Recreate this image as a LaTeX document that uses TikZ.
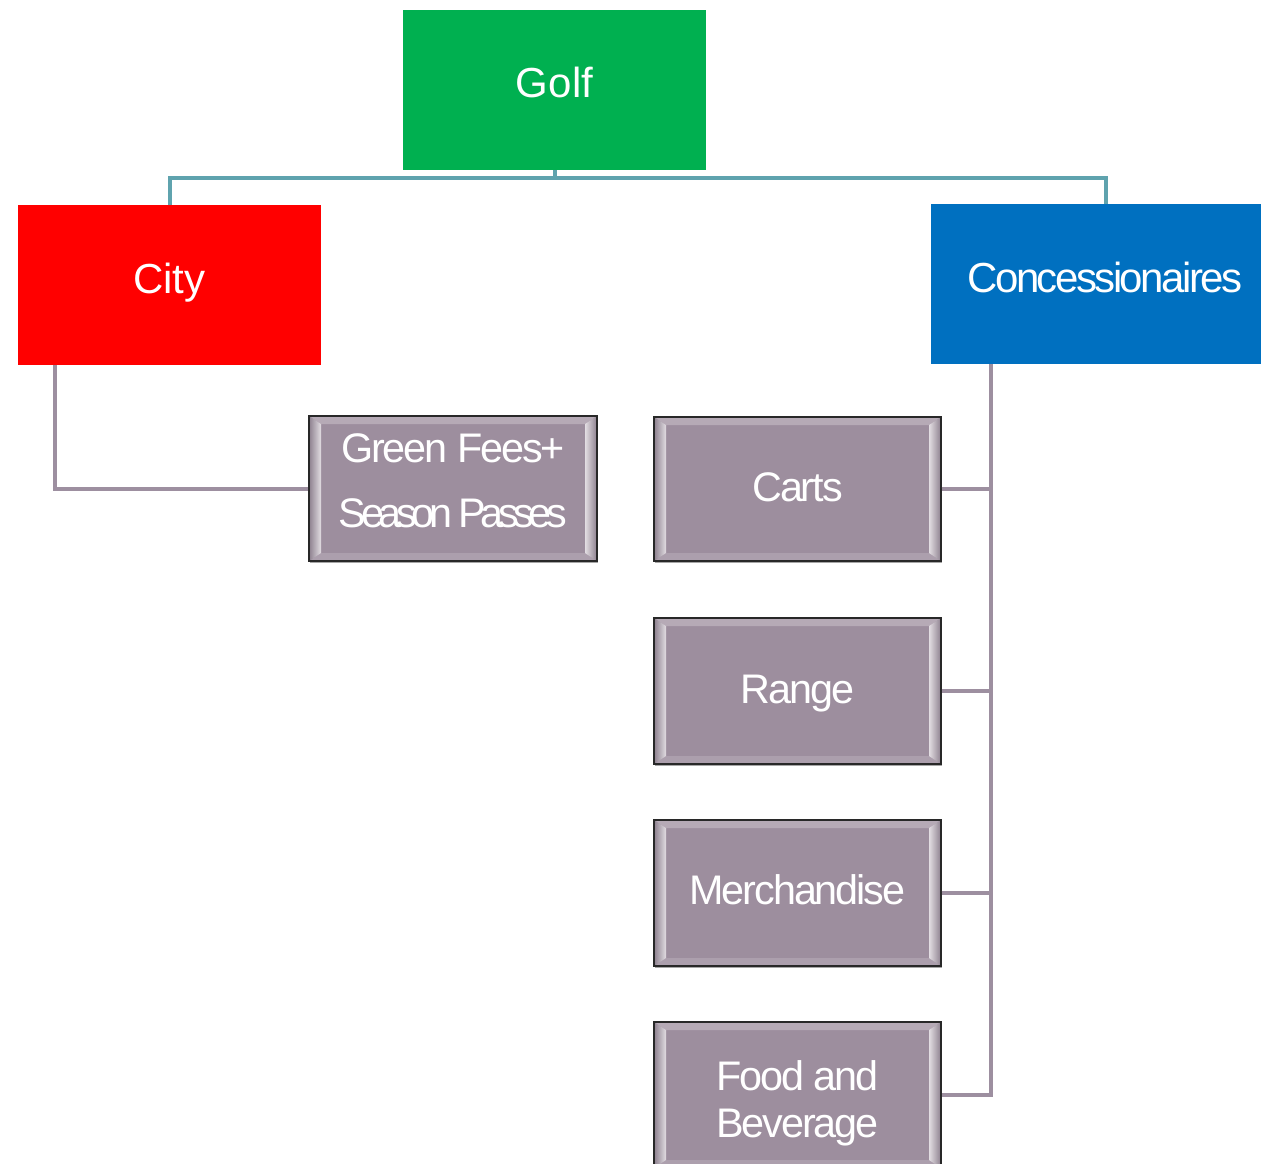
\documentclass[tikz,border=0pt]{standalone}
\usepackage{fontspec}
\setmainfont{Liberation Sans}
\usetikzlibrary{calc,shadows}
\definecolor{golfg}{RGB}{0,176,80}
\definecolor{cityr}{RGB}{255,0,0}
\definecolor{concb}{RGB}{0,112,192}
\definecolor{gfill}{RGB}{157,142,158}
\definecolor{tealline}{RGB}{95,163,174}
\definecolor{gline}{RGB}{157,143,160}
\definecolor{gborder}{RGB}{40,40,40}
\newcommand{\lifttext}[2]{\raisebox{#1}[0pt][0pt]{#2}}
\begin{document}
\begin{tikzpicture}[x=0.75pt,y=-0.75pt,
  topbox/.style={minimum width=227.25pt, minimum height=120pt, inner sep=0pt, text=white,
    font=\fontsize{31.5}{36}\selectfont},
  gbox/.style={minimum width=215.25pt, minimum height=109.5pt, inner sep=0pt, text=white,
    fill=gfill, draw=gborder, line width=1.1pt,
    drop shadow={shadow xshift=1pt, shadow yshift=-1.5pt, opacity=0.35, fill=black},
    path picture={
      \coordinate (BL) at (path picture bounding box.south west);
      \coordinate (TR) at (path picture bounding box.north east);
      \coordinate (TL) at (BL|-TR);
      \coordinate (BR) at (TR|-BL);
      \coordinate (iTL) at ($(TL)+(9pt,-6pt)$);
      \coordinate (iTR) at ($(TR)+(-9pt,-6pt)$);
      \coordinate (iBL) at ($(BL)+(9pt,6pt)$);
      \coordinate (iBR) at ($(BR)+(-9pt,6pt)$);
      \fill[gfill!75!white] (TL) -- (TR) -- (iTR) -- (iTL) -- cycle;
      \fill[gfill!85!white] (BL) -- (BR) -- (iBR) -- (iBL) -- cycle;
      \shade[left color=gfill!90!black, right color=gfill!30!white] (TL) -- (iTL) -- (iBL) -- (BL) -- cycle;
      \shade[right color=gfill!90!black, left color=gfill!30!white] (TR) -- (iTR) -- (iBR) -- (BR) -- cycle;
    },
    font=\fontsize{31}{36}\selectfont\addfontfeatures{LetterSpace=-5}},
  tconn/.style={draw=tealline, line width=3pt},
  gconn/.style={draw=gline, line width=3pt},
]
\useasboundingbox (0,0) rectangle (1261,1164);

% top level
\node[topbox, fill=golfg] (golf) at (554.5,90) {\lifttext{-5.25pt}{Golf}};
\node[topbox, fill=cityr] (city) at (169.5,285) {\lifttext{-6pt}{City}};
\node[topbox, fill=concb, minimum width=247.5pt] (conc) at (1096,284)
  {\hspace*{13.5pt}\lifttext{-6pt}{\addfontfeatures{LetterSpace=-6}Concessionaires}};

% connectors from Golf
\coordinate (hbar) at (554.5,178);
\draw[tconn] (golf.south) -- (hbar) -| (city.north);
\draw[tconn] (hbar) -| ($(conc.north)+(10,0)$);

% gray boxes
\node[gbox, minimum width=216pt, minimum height=108.75pt] (gf) at (453,488.5)
  {\lifttext{-28.9pt}{\fontsize{31}{48.75}\selectfont
   \begin{tabular}[b]{@{}c@{}}Green Fees+\\\addfontfeatures{LetterSpace=-13}Season Passes\end{tabular}}};
\node[gbox, minimum height=108pt] (carts) at (797.5,489) {\lifttext{-9pt}{Carts}};
\node[gbox] (range) at (797.5,691) {\lifttext{-9pt}{Range}};
\node[gbox] (merch) at (797.5,893) {\lifttext{-8.25pt}{Merchandise}};
\node[gbox] (food) at (797.5,1095)
  {\lifttext{-31.5pt}{\fontsize{31}{35.25}\selectfont
   \begin{tabular}[b]{@{}c@{}}Food and\\Beverage\end{tabular}}};

% City branch
\draw[gconn] ($(city.south west)+(37,0)$) |- (gf.west);

% Concessionaires branch
\coordinate (trunk) at ($(conc.south west)+(60,0)$);
\draw[gconn] (trunk) |- (food.east);
\draw[gconn] (carts.east) -- (carts.east -| trunk);
\draw[gconn] (range.east) -- (range.east -| trunk);
\draw[gconn] (merch.east) -- (merch.east -| trunk);
\end{tikzpicture}
\end{document}
